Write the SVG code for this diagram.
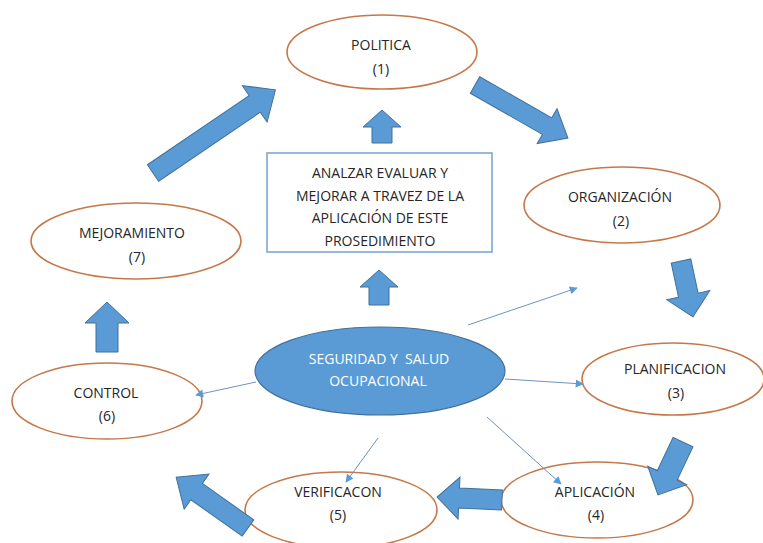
<svg xmlns="http://www.w3.org/2000/svg" width="763" height="543" viewBox="0 0 763 543">
<style>
.node ellipse{fill:#fff;stroke:#c5784a;stroke-width:1.6}
.t{font-family:"Open Sans","Liberation Sans",sans-serif;font-size:14px;fill:#262626;text-anchor:middle;white-space:pre}
.w{fill:#fff}
.blk{fill:#5b9bd5;stroke:#41719c;stroke-width:1}
.thin{stroke:#6f93bd;stroke-width:1;fill:none;marker-end:url(#ah)}
</style>
<defs>
<marker id="ah" viewBox="0 0 10 10" refX="9" refY="5" markerWidth="10" markerHeight="8" markerUnits="userSpaceOnUse" orient="auto">
<path d="M0,0 L10,5 L0,10 z" fill="#5b9bd5"/>
</marker>
</defs>
<rect width="763" height="543" fill="#fff"/>
<g id="politica" class="node">
<ellipse cx="382" cy="52" rx="95" ry="37"/>
<text class="t" x="381" y="50">POLITICA</text>
<text class="t" x="381" y="74">(1)</text>
</g>
<g id="caja">
<rect x="267" y="153" width="225" height="99" fill="#fff" stroke="#7ea6d3" stroke-width="1.6"/>
<text class="t" x="380" y="178">ANALZAR EVALUAR Y</text>
<text class="t" x="380" y="201">MEJORAR A TRAVEZ DE LA</text>
<text class="t" x="380" y="223">APLICACIÓN DE ESTE</text>
<text class="t" x="380" y="246">PROSEDIMIENTO</text>
</g>
<g id="organizacion" class="node">
<ellipse cx="622" cy="205" rx="98" ry="38"/>
<text class="t" x="620" y="202">ORGANIZACIÓN</text>
<text class="t" x="621" y="226">(2)</text>
</g>
<g id="mejoramiento" class="node">
<ellipse cx="136" cy="241" rx="105" ry="38"/>
<text class="t" x="132" y="238">MEJORAMIENTO</text>
<text class="t" x="137" y="262">(7)</text>
</g>
<g id="centro">
<ellipse cx="380" cy="371" rx="125" ry="44" fill="#5b9bd5" stroke="#41719c" stroke-width="1.2"/>
<text class="t w" x="379" y="364">SEGURIDAD Y  SALUD</text>
<text class="t w" x="378" y="386">OCUPACIONAL</text>
</g>
<g id="planificacion" class="node">
<ellipse cx="673" cy="379" rx="91" ry="36"/>
<text class="t" x="675" y="374">PLANIFICACION</text>
<text class="t" x="676" y="398">(3)</text>
</g>
<g id="control" class="node">
<ellipse cx="107" cy="401" rx="95" ry="38"/>
<text class="t" x="106" y="398">CONTROL</text>
<text class="t" x="107" y="421">(6)</text>
</g>
<g id="verificacon" class="node">
<ellipse cx="341" cy="510" rx="96" ry="38"/>
<text class="t" x="338" y="497">VERIFICACON</text>
<text class="t" x="338" y="520">(5)</text>
</g>
<g id="aplicacion" class="node">
<ellipse cx="597" cy="500" rx="96" ry="38"/>
<text class="t" x="595" y="497">APLICACIÓN</text>
<text class="t" x="596" y="520">(4)</text>
</g>
<g id="connectors">
<polygon class="blk" transform="translate(153,173) rotate(-34.2)" points="0,-10 123,-10 123,-22 148,0 123,22 123,10 0,10"/>
<polygon class="blk" transform="translate(475,85) rotate(29.7)" points="0,-9.5 83,-9.5 83,-20 107,0 83,20 83,9.5 0,9.5"/>
<polygon class="blk" transform="translate(681,261) rotate(77.9)" points="0,-10 35,-10 35,-22 57,0 35,22 35,10 0,10"/>
<polygon class="blk" transform="translate(683,442) rotate(115.3)" points="0,-11 37,-11 37,-21.5 58.6,0 37,21.5 37,11 0,11"/>
<polygon class="blk" transform="translate(502,500) rotate(182.6)" points="0,-10 43,-10 43,-21 65,0 43,21 43,10 0,10"/>
<polygon class="blk" transform="translate(248,528) rotate(215.3)" points="0,-10 63,-10 63,-21.5 88,0 63,21.5 63,10 0,10"/>
<polygon class="blk" points="372,143 392,143 392,127 401,127 382,110 363,127 372,127"/>
<polygon class="blk" points="369,305 389,305 389,287 398,287 379,270 360,287 369,287"/>
<polygon class="blk" points="96,352 118,352 118,323 129,323 107,302 85,323 96,323"/>
<line class="thin" x1="468" y1="325" x2="577" y2="288"/>
<line class="thin" x1="505" y1="379" x2="583" y2="384"/>
<line class="thin" x1="256" y1="382" x2="196" y2="395"/>
<line class="thin" x1="378" y1="438" x2="346" y2="482"/>
<line class="thin" x1="487" y1="417" x2="561" y2="484"/>
</g>
</svg>
